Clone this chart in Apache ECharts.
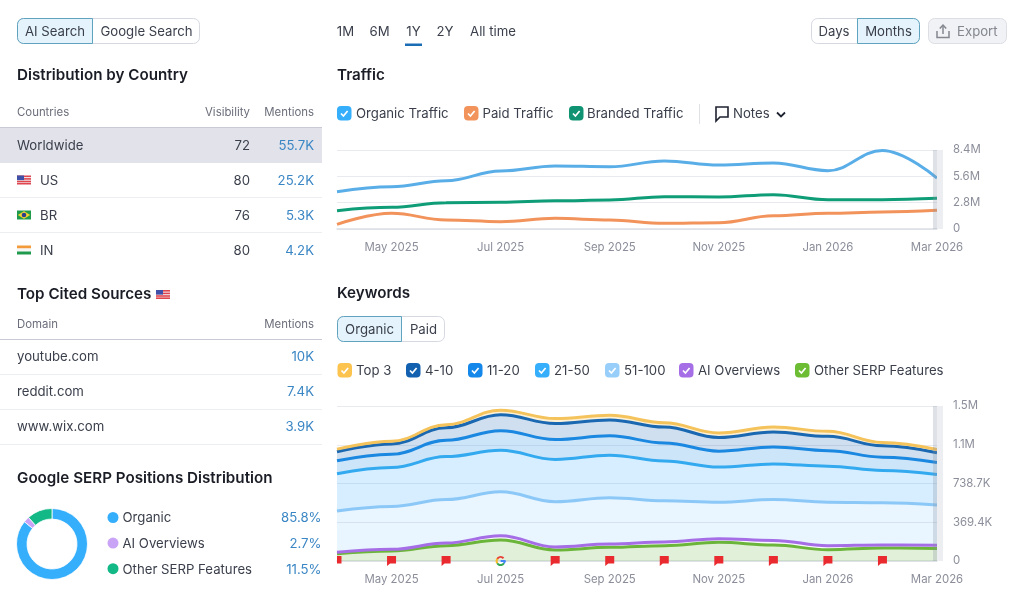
<!DOCTYPE html>
<html><head><meta charset="utf-8">
<style>html,body{margin:0;padding:0;background:#fff}#c{width:1024px;height:603px}</style>
<script src="https://cdn.jsdelivr.net/npm/echarts@6/dist/echarts.min.js"></script>
</head><body><div id="c"></div>
<script>
const months=['Apr 2025','May 2025','Jun 2025','Jul 2025','Aug 2025','Sep 2025','Oct 2025','Nov 2025','Dec 2025','Jan 2026','Feb 2026','Mar 2026'];
// Traffic, millions
const organicTraffic=[3.97,4.5,5.13,6.17,6.7,6.62,7.23,6.8,7.02,6.2,8.35,5.42];
const paidTraffic=[0.5,1.67,0.96,0.78,1.13,0.96,0.6,0.67,1.41,1.67,1.81,1.99];
const brandedTraffic=[1.95,2.3,2.8,2.84,3.0,3.08,3.44,3.4,3.65,3.12,3.12,3.26];
const trafficTicks=['0','2.8M','5.6M','8.4M'];
// Keywords, thousands per stacked layer
const kwOther=[70,95,146,200,105,130,146,178,152,108,124,120];
const kwAI=[13,16,25,41,29,32,35,35,44,38,29,29];
const kw51=[393,409,415,418,431,441,393,346,390,415,403,384];
const kw21=[355,371,409,396,403,406,380,336,339,342,307,292];
const kw11=[124,127,155,187,190,184,171,152,162,149,127,114];
const kw4=[86,98,120,152,152,152,152,130,143,136,108,92];
const kwTop3=[25,25,29,44,48,44,41,44,48,48,32,32];
const keywordTicks=['0','369.4K','738.7K','1.1M','1.5M'];
const eventKinds=['note','note','note','google','note','note','note','note','note','note','note'];
// Tables
const countries=['Worldwide','US','BR','IN'];
const visibility=['72','80','76','80'];
const mentions=['55.7K','25.2K','5.3K','4.2K'];
const domains=['youtube.com','reddit.com','www.wix.com'];
const domainMentions=['10K','7.4K','3.9K'];
const serpNames=['Organic','AI Overviews','Other SERP Features'];
const serpShares=[85.8,2.7,11.5];
const serpColors=['#35aefc','#c9a4f6','#12b886'];
const ranges=['1M','6M','1Y','2Y','All time'];

const INK='#3a3f4b',TITLE='#1b1d26',MUTED='#6b6e7a',LINK='#3a86c4',AXIS='#8b8e9a';
const FF='Inter, "Noto Sans", sans-serif';
const BODY=13.2,HEAD=15.2,SMALL=11.4;
const g=[];
function T(x,y,text,o={}){g.push({type:'text',silent:true,z:o.z||60,style:{x,y:y+2,text,fill:o.c||INK,font:`${o.w||400} ${o.s||BODY}px ${FF}`,textAlign:o.a||'left',textVerticalAlign:'middle'}});}
function R(x,y,w,h,fill,o={}){g.push({type:'rect',silent:true,z:o.z||5,shape:{x,y,width:w,height:h,r:o.r||0},style:{fill,stroke:o.st||null,lineWidth:o.st?1:0,opacity:o.op==null?1:o.op}});}
function L(x1,y1,x2,y2,c,lw=1){g.push({type:'line',silent:true,z:5,shape:{x1,y1,x2,y2},style:{stroke:c,lineWidth:lw}});}
function P(points,fill,stroke,lw,closed=true,z=60){g.push({type:closed?'polygon':'polyline',silent:true,z,shape:{points},style:{fill:closed?fill:null,stroke,lineWidth:lw||1}});}
function seg(x1,x2,x3,y,h,a,b,on){
  R(x1+.5,y+.5,x3-x1-1,h-1,'#fff',{st:'#d6d9e0',r:6});
  const ax=on===0?x1:x2,aw=on===0?x2-x1:x3-x2;
  R(ax+.5,y+.5,aw-1,h-1,'#e4f3fc',{st:'#5fa3bf',r:on===0?[6,0,0,6]:[0,6,6,0]});
  T((x1+x2)/2,y+h/2-1,a,{a:'center'});T((x2+x3)/2,y+h/2-1,b,{a:'center'});
}
function check(x,y,c){
  R(x,y,14.5,14.5,c,{r:4,z:10});
  P([[x+4,y+7.5],[x+6.4,y+10],[x+10.6,y+5]],null,'#fff',1.7,false);
}
function flag(kind,x,y){
  if(kind==='US'){R(x,y,14,9,'#f2f2f6',{z:8});[0,2.6,5.2,7.4].forEach(d=>R(x,y+d,14,1.6,'#e0464f',{z:8}));R(x,y,7,4.6,'#3f50a8',{z:9});}
  if(kind==='BR'){R(x,y,14,9,'#1f9a4c',{z:8});P([[x+7,y+.8],[x+13,y+4.5],[x+7,y+8.2],[x+1,y+4.5]],'#f6d230','#f6d230',.2);g.push({type:'circle',silent:true,z:61,shape:{cx:x+7,cy:y+4.5,r:2.3},style:{fill:'#2b3f8c'}});}
  if(kind==='IN'){R(x,y,14,3,'#f39a3c',{z:8});R(x,y+3,14,3,'#f6f6f6',{z:8});R(x,y+6,14,3,'#1f9a4c',{z:8});}
}

// Left column
seg(17,93,200,18,26,'AI Search','Google Search',0);
T(17,73.5,'Distribution by Country',{s:HEAD,w:600,c:TITLE});
T(17,110.5,'Countries',{s:SMALL,c:MUTED});T(250,110.5,'Visibility',{s:SMALL,c:MUTED,a:'right'});T(314,110.5,'Mentions',{s:SMALL,c:MUTED,a:'right'});
R(0,128,322,35,'#e1e2ea');L(0,127.5,322,127.5,'#c9cbd4');
[198,233].forEach(y=>L(0,y-.5,322,y-.5,'#eceef2'));
countries.forEach((n,i)=>{
  const y=144+35*i;
  if(i) {flag(n,17,y-3.5);T(40,y,n);} else T(17,y,n);
  T(250,y,visibility[i],{a:'right'});T(314,y,mentions[i],{a:'right',c:LINK});
});
T(17,292.5,'Top Cited Sources',{s:HEAD,w:600,c:TITLE});flag('US',156,290);
T(17,322.5,'Domain',{s:SMALL,c:MUTED});T(314,322.5,'Mentions',{s:SMALL,c:MUTED,a:'right'});
L(0,339.5,322,339.5,'#c9cbd4');
domains.forEach((d,i)=>{const y=355+35*i;T(17,y,d);T(314,y,domainMentions[i],{a:'right',c:LINK});L(0,y+19.5,322,y+19.5,'#eceef2');});
T(17,476.5,'Google SERP Positions Distribution',{s:HEAD,w:600,c:TITLE});
serpNames.forEach((n,i)=>{const y=517.5+25.6*i;g.push({type:'circle',silent:true,z:60,shape:{cx:113,cy:y,r:5.5},style:{fill:serpColors[i]}});T(122.5,y-1,n);T(321.5,y-1,serpShares[i].toFixed(1)+'%',{a:'right',c:LINK});});

// Top bar
[345.5,379.5,413.5,445,493].forEach((x,i)=>T(x,30,ranges[i],{a:'center'}));
R(405,43.5,17,2.5,'#1a6db5');
seg(811,857,920,18,26,'Days','Months',1);
R(928.5,18.5,78,25,'#f1f2f5',{st:'#dcdee4',r:6});
T(957,30,'Export',{c:'#84878f'});
P([[937,31],[937,37.5],[949,37.5],[949,31]],null,'#84878f',1.5,false);
P([[943,34],[943,25.5]],null,'#84878f',1.5,false);P([[939.8,28.5],[943,25],[946.2,28.5]],null,'#84878f',1.5,false);

// Traffic
T(337,73.5,'Traffic',{s:HEAD,w:600,c:TITLE});
[[337,'#35aefc',356,'Organic Traffic'],[464,'#f2935c',482.5,'Paid Traffic'],[569,'#0f9373',587,'Branded Traffic']].forEach(a=>{check(a[0],106,a[1]);T(a[2],112,a[3]);});
L(699.5,104,699.5,124,'#dfe1e6');
P([[716,107],[728,107],[728,117],[720,117],[716,121]],'#fff','#1f2230',1.6);
T(733,112,'Notes');
P([[777,112.5],[781,116.5],[785,112.5]],null,'#1f2230',1.8,false);

// Keywords
T(337,291.5,'Keywords',{s:HEAD,w:600,c:TITLE});
seg(337,402,445,316,26,'Organic','Paid',0);
[[337.5,'#fcc44f',356,'Top 3'],[406,'#1261b0',425,'4-10'],[468,'#1488ea',487,'11-20'],[535,'#35aefc',554,'21-50'],[605,'#98cffa',624,'51-100'],[679,'#a56ee6',698,'AI Overviews'],[795,'#6cbd33',814,'Other SERP Features']].forEach(a=>{check(a[0],363,a[1]);T(a[2],369,a[3]);});

// End-of-range bands
[[150,79],[406,155]].forEach(b=>{
  R(933,b[0],4,b[1],'#8a93a3',{z:50,op:.28});
  R(937,b[0],6,b[1],'#eceef1',{z:50});
});

const SM=.4;
const lineS=(name,data,color,grid)=>({name,type:'line',data,xAxisIndex:grid,yAxisIndex:grid,smooth:SM,smoothMonotone:'x',showSymbol:false,lineStyle:{color,width:3},itemStyle:{color},z:4});
const layer=(name,data,color,fill)=>({name,type:'line',stack:'kw',data,xAxisIndex:1,yAxisIndex:1,smooth:SM,smoothMonotone:'x',showSymbol:false,lineStyle:{color,width:3},itemStyle:{color},areaStyle:{color:fill,opacity:1},z:4});
const xAxisBase=(i)=>({type:'category',gridIndex:i,data:months,boundaryGap:false,axisTick:{show:false},
  axisLine:{show:true,lineStyle:{color:'#dcdee5',width:1.5}},splitLine:{show:false},
  axisLabel:{color:AXIS,fontFamily:FF,fontSize:SMALL,margin:13,hideOverlap:false,showMinLabel:true,showMaxLabel:true,interval:(idx)=>idx%2===1}});
const yAxisBase=(i,max,interval,ticks)=>({type:'value',gridIndex:i,position:'right',min:0,max,interval,
  axisLine:{show:false},axisTick:{show:false},splitLine:{show:true,lineStyle:{color:'#e9eaf0',width:1}},
  axisLabel:{color:AXIS,fontFamily:FF,fontSize:SMALL,margin:16,padding:[2,0,0,0],formatter:(v,idx)=>ticks[idx]}});

const chart=echarts.init(document.getElementById('c'),null,{renderer:'canvas'});
chart.setOption({
  animation:false,backgroundColor:'#fff',
  grid:[{left:337,top:150,width:600,height:79},{left:337,top:406,width:600,height:155}],
  xAxis:[xAxisBase(0),xAxisBase(1)],
  yAxis:[yAxisBase(0,8.4,2.8,trafficTicks),yAxisBase(1,1477.4,369.35,keywordTicks)],
  graphic:{elements:g},
  series:[
    lineS('Organic Traffic',organicTraffic,'#5aaee8',0),
    lineS('Paid Traffic',paidTraffic,'#f2935c',0),
    lineS('Branded Traffic',brandedTraffic,'#0f9d78',0),
    layer('Other SERP Features',kwOther,'#6bb53a','rgba(107,181,58,.2)'),
    layer('AI Overviews',kwAI,'#a56ee6','rgba(165,110,230,.05)'),
    layer('51-100',kw51,'#8cc8f7','rgba(51,170,255,.11)'),
    layer('21-50',kw21,'#33aaf0','rgba(51,170,255,.2)'),
    layer('11-20',kw11,'#1a87e0','rgba(26,135,224,.22)'),
    layer('4-10',kw4,'#1a68b2','rgba(26,104,178,.21)'),
    layer('Top 3',kwTop3,'#f5c35c','rgba(245,195,92,.25)'),
    {type:'custom',xAxisIndex:1,yAxisIndex:1,z:6,clip:false,silent:true,
     data:eventKinds.map((k,i)=>[months[i],0]),
     renderItem:(p,api)=>{
       const c=api.coord([api.value(0),0]),x=c[0],b=c[1];
       if(eventKinds[p.dataIndex]==='google'){
         const cx=x,cy=b,r=4,arc=(s,e,col)=>({type:'arc',shape:{cx,cy,r,startAngle:s,endAngle:e},style:{stroke:col,lineWidth:2,fill:null}});
         return {type:'group',children:[arc(-2.6,-.75,'#e8433a'),arc(2.55,3.75,'#f7bb2a'),arc(.6,2.55,'#34a853'),arc(0,.6,'#4285f4'),
           {type:'line',shape:{x1:cx,y1:cy,x2:cx+r+1,y2:cy},style:{stroke:'#4285f4',lineWidth:2}}]};
       }
       const l=Math.max(x-4.5,p.coordSys.x),r=x+4.5,t=b-5,h=7.5;
       const tail=x-4.5<p.coordSys.x?[[l,t+h]]:[[x-1.5,t+h],[l,t+h+2.5]];
       return {type:'polygon',shape:{points:[[l,t],[r,t],[r,t+h]].concat(tail)},style:{fill:'#e92a2e'}};
     }},
    {type:'pie',center:[52,544],radius:[25,35.5],startAngle:90,clockwise:true,silent:true,
     label:{show:false},labelLine:{show:false},itemStyle:{borderColor:'#fff',borderWidth:.8},
     data:serpNames.map((n,i)=>({name:n,value:serpShares[i],itemStyle:{color:serpColors[i]}}))}
  ]
});
</script></body></html>
